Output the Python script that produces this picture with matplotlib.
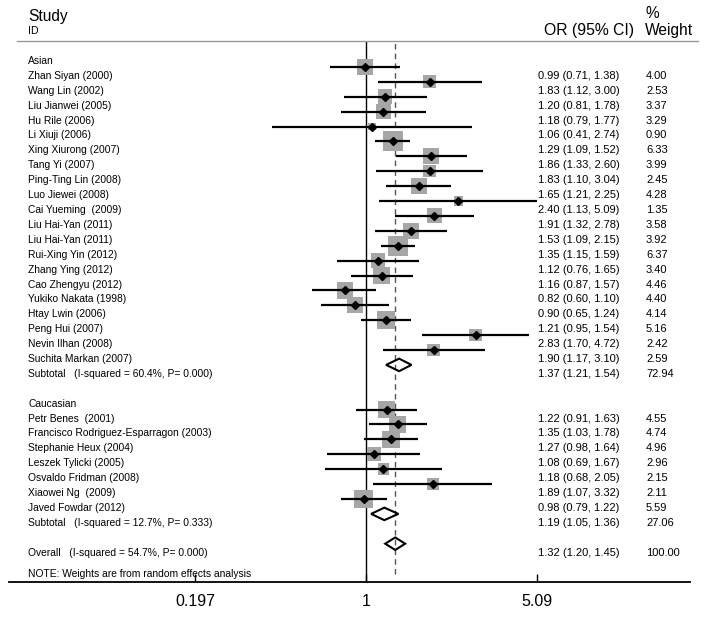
import numpy as np
import matplotlib
matplotlib.use('Agg')
import matplotlib.pyplot as plt
from matplotlib import transforms
from matplotlib.patches import Polygon
from matplotlib.lines import Line2D

plt.rcParams['font.family'] = ['Liberation Sans', 'DejaVu Sans']

# Asian studies
asian_names = ['Zhan Siyan (2000)', 'Wang Lin (2002)', 'Liu Jianwei (2005)', 'Hu Rile (2006)',
               'Li Xiuji (2006)', 'Xing Xiurong (2007)', 'Tang Yi (2007)', 'Ping-Ting Lin (2008)',
               'Luo Jiewei (2008)', 'Cai Yueming  (2009)', 'Liu Hai-Yan (2011)', 'Liu Hai-Yan (2011)',
               'Rui-Xing Yin (2012)', 'Zhang Ying (2012)', 'Cao Zhengyu (2012)', 'Yukiko Nakata (1998)',
               'Htay Lwin (2006)', 'Peng Hui (2007)', 'Nevin Ilhan (2008)', 'Suchita Markan (2007)']
asian_or = [0.99, 1.83, 1.20, 1.18, 1.06, 1.29, 1.86, 1.83, 1.65, 2.40,
            1.91, 1.53, 1.35, 1.12, 1.16, 0.82, 0.90, 1.21, 2.83, 1.90]
asian_lo = [0.71, 1.12, 0.81, 0.79, 0.41, 1.09, 1.33, 1.10, 1.21, 1.13,
            1.32, 1.09, 1.15, 0.76, 0.87, 0.60, 0.65, 0.95, 1.70, 1.17]
asian_hi = [1.38, 3.00, 1.78, 1.77, 2.74, 1.52, 2.60, 3.04, 2.25, 5.09,
            2.78, 2.15, 1.59, 1.65, 1.57, 1.10, 1.24, 1.54, 4.72, 3.10]
asian_w = [4.00, 2.53, 3.37, 3.29, 0.90, 6.33, 3.99, 2.45, 4.28, 1.35,
           3.58, 3.92, 6.37, 3.40, 4.46, 4.40, 4.14, 5.16, 2.42, 2.59]

# Caucasian studies
cauc_names = ['Petr Benes  (2001)', 'Francisco Rodriguez-Esparragon (2003)', 'Stephanie Heux (2004)',
              'Leszek Tylicki (2005)', 'Osvaldo Fridman (2008)', 'Xiaowei Ng  (2009)', 'Javed Fowdar (2012)']
cauc_or = [1.22, 1.35, 1.27, 1.08, 1.18, 1.89, 0.98]
cauc_lo = [0.91, 1.03, 0.98, 0.69, 0.68, 1.07, 0.79]
cauc_hi = [1.63, 1.78, 1.64, 1.67, 2.05, 3.32, 1.22]
cauc_w = [4.55, 4.74, 4.96, 2.96, 2.15, 2.11, 5.59]

# pooled estimates: asian subtotal, caucasian subtotal, overall
pooled_labels = ['Subtotal   (I-squared = 60.4%, P= 0.000)',
                 'Subtotal   (I-squared = 12.7%, P= 0.333)',
                 'Overall   (I-squared = 54.7%, P= 0.000)']
pooled_or = [1.37, 1.19, 1.32]
pooled_lo = [1.21, 1.05, 1.20]
pooled_hi = [1.54, 1.36, 1.45]
pooled_w = [72.94, 27.06, 100.00]

tick_vals = [0.197, 1, 5.09]
tick_labels = ['0.197', '1', '5.09']

# row layout (one row ~14.9 px)
asian_rows = np.arange(1, 21)
cauc_rows = np.arange(24, 31)
pooled_rows = [21, 31, 33]

W, H = 708, 617
fig = plt.figure(figsize=(W / 100, H / 100), dpi=100)
row_px = 14.9
top_px, bot_px = 41, 582
r_top = (top_px - 52) / row_px
r_bot = (bot_px - 52) / row_px
ax = fig.add_axes([9 / W, 1 - bot_px / H, 681 / W, (bot_px - top_px) / H])
ax.set_xscale('log')
ax.set_xlim(np.exp((9 - 366) / 105.3), np.exp((690 - 366) / 105.3))
ax.set_ylim(r_bot, r_top)
for s in ['top', 'left', 'right']:
    ax.spines[s].set_visible(False)
ax.spines['bottom'].set_linewidth(1.3)
ax.set_yticks([])
ax.set_xticks(tick_vals)
ax.set_xticklabels(tick_labels, fontsize=11.5)
ax.xaxis.set_minor_locator(matplotlib.ticker.NullLocator())
ax.tick_params(axis='x', direction='in', length=6, width=1, pad=9)

# reference lines
ax.axvline(1, color='black', lw=1.0, zorder=1)
ax.axvline(pooled_or[2], ymin=0.015, ymax=1, color='#555555', lw=1.0, ls=(0, (4, 3)), zorder=1)

# studies
rows = np.concatenate([asian_rows, cauc_rows])
ors = np.array(asian_or + cauc_or)
los = np.array(asian_lo + cauc_lo)
his = np.array(asian_hi + cauc_hi)
ws = np.array(asian_w + cauc_w)
ax.scatter(ors, rows, s=32.8 * ws, marker='s', color='#a6a6a6', linewidths=0, zorder=2)
ax.hlines(rows, los, his, color='black', lw=1.6, zorder=3)
ax.plot(ors, rows, 'D', color='black', markersize=3.6, zorder=4)

# pooled diamonds
for r, e, lo, hi in zip(pooled_rows, pooled_or, pooled_lo, pooled_hi):
    d = Polygon([(lo, r), (e, r - 0.42), (hi, r), (e, r + 0.42)], closed=True,
                fill=False, edgecolor='black', lw=1.5, zorder=3)
    ax.add_patch(d)

# text columns
txt = transforms.blended_transform_factory(fig.transFigure, ax.transData) + \
    transforms.ScaledTranslation(0, -0.09, fig.dpi_scale_trans)
x_name, x_or, x_w = 28 / W, 538 / W, 646 / W
fs_name, fs_val = 7.4, 8.0

def row_text(r, name, o=None, lo=None, hi=None, w=None):
    fig.text(x_name, r, name, transform=txt, fontsize=fs_name, va='center', ha='left')
    if o is not None:
        fig.text(x_or, r, '%.2f (%.2f, %.2f)' % (o, lo, hi), transform=txt,
                 fontsize=fs_val, va='center', ha='left')
        fig.text(x_w, r, '%.2f' % w, transform=txt, fontsize=fs_val, va='center', ha='left')

row_text(0, 'Asian')
for r, n, o, lo, hi, w in zip(asian_rows, asian_names, asian_or, asian_lo, asian_hi, asian_w):
    row_text(r, n, o, lo, hi, w)
row_text(23, 'Caucasian')
for r, n, o, lo, hi, w in zip(cauc_rows, cauc_names, cauc_or, cauc_lo, cauc_hi, cauc_w):
    row_text(r, n, o, lo, hi, w)
for r, n, o, lo, hi, w in zip(pooled_rows, pooled_labels, pooled_or, pooled_lo, pooled_hi, pooled_w):
    row_text(r, n, o, lo, hi, w)
row_text(34.45, 'NOTE: Weights are from random effects analysis')

# header
fig.text(28 / W, 1 - 16 / H, 'Study', fontsize=11.2, va='center', ha='left')
fig.text(28 / W, 1 - 31 / H, 'ID', fontsize=7.6, va='center', ha='left')
fig.text(634 / W, 1 - 30 / H, 'OR (95% CI)', fontsize=11.3, va='center', ha='right')
fig.text(645 / W, 1 - 14 / H, '%', fontsize=11.2, va='center', ha='left')
fig.text(645 / W, 1 - 30 / H, 'Weight', fontsize=11.2, va='center', ha='left')
fig.add_artist(Line2D([17 / W, 698 / W], [1 - top_px / H, 1 - top_px / H],
                      transform=fig.transFigure, color='#999999', lw=1.0))

fig.savefig('out.png', dpi=100)
